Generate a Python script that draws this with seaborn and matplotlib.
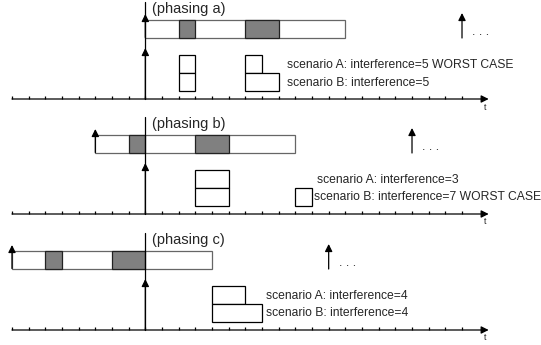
import matplotlib.pyplot as plt
import seaborn as sns
from matplotlib.patches import Rectangle

# time axis: ticks 0..27, critical instant at t=8
n_ticks = 28
critical_instant = 8

phasings = ["a", "b", "c"]
bar_start = [8, 5, 0]
bar_end = [20, 17, 12]
shaded = [[(10, 11), (14, 16)], [(7, 8), (11, 13)], [(2, 3), (6, 8)]]
next_release = [27, 24, 19]

# boxes of the two scenarios (start, end)
boxes_a = [[(10, 11), (14, 15)], [(11, 13)], [(12, 14)]]
boxes_b = [[(10, 11), (14, 16)], [(11, 13), (17, 18)], [(12, 15)]]
interf_a = [5, 3, 4]
interf_b = [5, 7, 4]
worst = ["A", "B", None]

# layout (pixel rows of each time axis, px per tick)
axis_y = [99, 214, 330]
x0, unit = 12, 16.667
text_x_a = [16.5, 18.3, 15.25]
text_x_b = [16.5, 18.1, 15.25]

sns.set_theme(style="white")
plt.rcParams["font.family"] = ["Liberation Sans", "DejaVu Sans"]

fig = plt.figure(figsize=(5.41, 3.45), dpi=100)
ax = fig.add_axes([0, 0, 1, 1])
ax.set_xlim(-x0 / unit, (541 - x0) / unit)
ax.set_ylim(345, 0)
ax.axis("off")

lw = 0.9
arrow = dict(arrowstyle="-|>", color="black", lw=lw, mutation_scale=11,
             shrinkA=0, shrinkB=0)

for i, p in enumerate(phasings):
    y = axis_y[i]
    # time axis with ticks
    ax.annotate("", xy=(28.6, y), xytext=(0, y), arrowprops=arrow)
    ax.vlines(range(n_ticks), y - 3, y, color="black", lw=lw)
    ax.text(28.4, y + 8, "t", fontsize=6.5, ha="center", va="center")

    # critical instant line
    ax.plot([critical_instant] * 2, [y, y - 97], color="black", lw=lw)
    ax.annotate("", xy=(critical_instant, y - 51), xytext=(critical_instant, y),
                arrowprops=arrow)
    ax.text(critical_instant + 0.4, y - 90, f"(phasing {p})", fontsize=10.5,
            ha="left", va="center")

    # higher priority task bar
    top, bot = y - 79, y - 61.5
    ax.add_patch(Rectangle((bar_start[i], top), bar_end[i] - bar_start[i], bot - top,
                           facecolor="white", edgecolor="#666666", lw=lw))
    for s, e in shaded[i]:
        ax.add_patch(Rectangle((s, top), e - s, bot - top,
                               facecolor="#808080", edgecolor="#222222", lw=lw))
    ax.annotate("", xy=(bar_start[i], y - 85), xytext=(bar_start[i], bot),
                arrowprops=arrow)
    ax.annotate("", xy=(next_release[i], y - 86), xytext=(next_release[i], y - 61),
                arrowprops=arrow)
    ax.text(next_release[i] + 0.6, y - 67, ". . .", fontsize=9, ha="left", va="center")

    # scenario boxes
    for s, e in boxes_a[i]:
        ax.add_patch(Rectangle((s, y - 44), e - s, 18, facecolor="white",
                               edgecolor="black", lw=lw))
    for s, e in boxes_b[i]:
        ax.add_patch(Rectangle((s, y - 26), e - s, 18, facecolor="white",
                               edgecolor="black", lw=lw))

    la = f"scenario A: interference={interf_a[i]}" + (" WORST CASE" if worst[i] == "A" else "")
    lb = f"scenario B: interference={interf_b[i]}" + (" WORST CASE" if worst[i] == "B" else "")
    ax.text(text_x_a[i], y - 34, la, fontsize=8.7, ha="left", va="center")
    ax.text(text_x_b[i], y - 16.5, lb, fontsize=8.7, ha="left", va="center")

fig.savefig("out.png", dpi=100)
